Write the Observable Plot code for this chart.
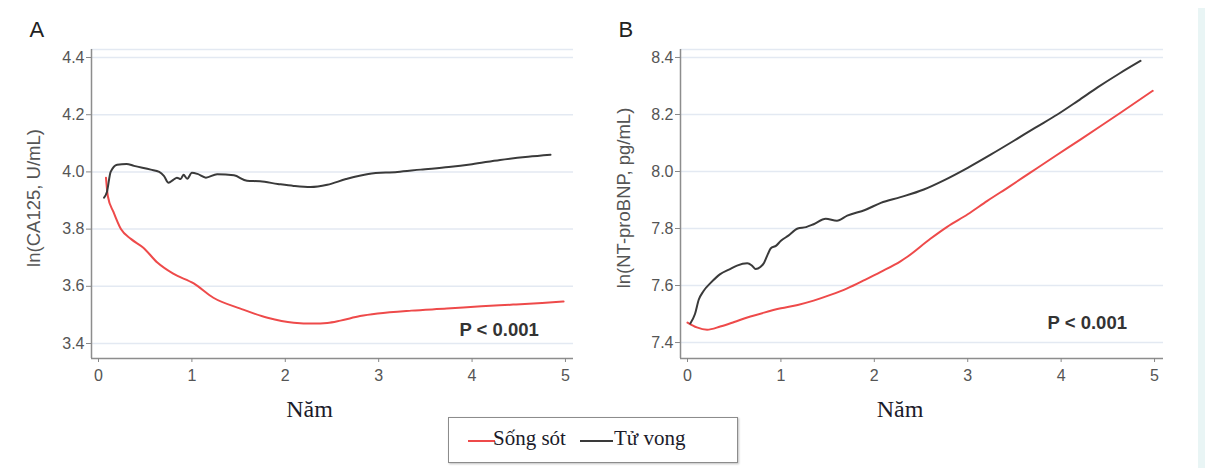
<!DOCTYPE html>
<html>
<head>
<meta charset="utf-8">
<script src="https://cdn.jsdelivr.net/npm/d3@7"></script>
<script src="https://cdn.jsdelivr.net/npm/@observablehq/plot@0.6"></script>
<style>
  html, body { margin: 0; padding: 0; background: #fff; }
  #page { position: relative; width: 1205px; height: 468px; overflow: hidden; background: #fff; }
  .panel { position: absolute; top: 0; }
  .legend { position: absolute; left: 448px; top: 417px; width: 288px; height: 44px;
            border: 1.5px solid #8c8c8c; box-shadow: 1px 1px 2px rgba(0,0,0,0.25); background: #fff; }
  .lg-line { position: absolute; height: 2px; }
  .lg-text { position: absolute; font-family: "Liberation Serif", "Times New Roman", serif; font-size: 21px; color: #1b1b2a; line-height: 1; }
  .edge { position: absolute; left: 1198px; top: 8px; width: 7px; height: 460px; background: #e9f5f5; }
</style>
</head>
<body>
<div id="page">
  <div class="panel" id="panelA" style="left:0px"></div>
  <div class="panel" id="panelB" style="left:590px"></div>
  <div class="legend"></div>
  <div class="edge"></div>
</div>
<script>
// ---- Data ----
const groups = ["Sống sót", "Tử vong"];
const groupColors = ["#ee4a4a", "#3a3a3a"];
const xTicks = [0, 1, 2, 3, 4, 5];
const yTicksA = [3.4, 3.6, 3.8, 4.0, 4.2, 4.4];
const yTicksB = [7.4, 7.6, 7.8, 8.0, 8.2, 8.4];

// Panel A: ln(CA125) — Sống sót
const yearsA_song = [0.08, 0.1, 0.16, 0.24, 0.35, 0.48, 0.63, 0.8, 1.02, 1.23, 1.52, 1.81, 2.09, 2.3, 2.45, 2.59, 2.8, 2.99, 3.35, 3.73, 4.1, 4.44, 4.75, 4.98];
const ca125_song = [3.98, 3.915, 3.86, 3.80, 3.765, 3.735, 3.683, 3.644, 3.61, 3.56, 3.522, 3.49, 3.473, 3.47, 3.472, 3.48, 3.496, 3.505, 3.515, 3.522, 3.53, 3.536, 3.542, 3.547];
// Panel A: ln(CA125) — Tử vong
const yearsA_tu = [0.06, 0.09, 0.13, 0.2, 0.3, 0.38, 0.56, 0.65, 0.7, 0.75, 0.8, 0.84, 0.88, 0.91, 0.95, 1.0, 1.06, 1.15, 1.27, 1.45, 1.59, 1.73, 1.92, 2.09, 2.27, 2.45, 2.65, 2.89, 3.2, 3.45, 3.75, 4.0, 4.3, 4.6, 4.84];
const ca125_tu = [3.91, 3.93, 4.0, 4.025, 4.028, 4.021, 4.008, 4.0, 3.986, 3.962, 3.972, 3.98, 3.975, 3.99, 3.976, 3.997, 3.993, 3.98, 3.992, 3.988, 3.969, 3.967, 3.958, 3.951, 3.947, 3.955, 3.975, 3.993, 4.0, 4.008, 4.017, 4.027, 4.042, 4.053, 4.06];

// Panel B: ln(NT-proBNP) — Sống sót
const yearsB_song = [0.0, 0.1, 0.21, 0.35, 0.5, 0.64, 0.82, 1.0, 1.18, 1.35, 1.53, 1.71, 1.9, 2.07, 2.28, 2.35, 2.6, 2.78, 3.0, 3.21, 3.45, 3.67, 3.95, 4.21, 4.44, 4.64, 4.98];
const bnp_song = [7.47, 7.453, 7.445, 7.456, 7.472, 7.488, 7.505, 7.52, 7.532, 7.547, 7.567, 7.59, 7.62, 7.648, 7.685, 7.70, 7.764, 7.806, 7.85, 7.897, 7.948, 7.996, 8.057, 8.113, 8.163, 8.207, 8.283];
// Panel B: ln(NT-proBNP) — Tử vong
const yearsB_tu = [0.03, 0.08, 0.12, 0.17, 0.25, 0.35, 0.45, 0.53, 0.64, 0.69, 0.73, 0.78, 0.82, 0.86, 0.89, 0.95, 1.0, 1.08, 1.18, 1.27, 1.35, 1.48, 1.6, 1.71, 1.9, 2.07, 2.28, 2.53, 2.75, 3.0, 3.25, 3.49, 3.72, 3.96, 4.18, 4.39, 4.62, 4.85];
const bnp_tu = [7.467, 7.50, 7.55, 7.58, 7.61, 7.64, 7.657, 7.67, 7.678, 7.67, 7.658, 7.665, 7.68, 7.71, 7.73, 7.74, 7.757, 7.775, 7.80, 7.805, 7.815, 7.834, 7.827, 7.845, 7.865, 7.89, 7.91, 7.937, 7.97, 8.013, 8.06, 8.107, 8.153, 8.2, 8.248, 8.295, 8.343, 8.388];

function rows(years, vals, g) { return years.map((t, i) => ({t, v: vals[i], g})); }

const dataA = [...rows(yearsA_song, ca125_song, groups[0]), ...rows(yearsA_tu, ca125_tu, groups[1])];
const dataB = [...rows(yearsB_song, bnp_song, groups[0]), ...rows(yearsB_tu, bnp_tu, groups[1])];

function panel({data, yTicks, yDomain, xDomain, letter, ylabel, ptext, px, py, mLeft, mRight, namDx, ylabDx}) {
  const gridColor = "#e3e9f2";
  return Plot.plot({
    width: 600, height: 400,
    marginLeft: mLeft, marginRight: mRight, marginTop: 49, marginBottom: 42,
    style: {fontFamily: "'Liberation Sans', Arial, sans-serif", fontSize: "16px", color: "#555", background: "transparent", overflow: "visible"},
    x: {domain: xDomain, ticks: xTicks, label: null},
    y: {domain: yDomain, ticks: yTicks, label: null},
    color: {domain: groups, range: groupColors},
    marks: [
      Plot.gridY(yTicks, {stroke: gridColor, strokeOpacity: 1, strokeWidth: 1.5}),
      Plot.ruleY([yDomain[1]], {stroke: gridColor, strokeWidth: 1.5}),
      Plot.ruleX([xDomain[0]], {stroke: "#8d8d8d", strokeWidth: 1.5}),
      Plot.ruleY([yDomain[0]], {stroke: "#8d8d8d", strokeWidth: 1.5}),
      Plot.axisY(yTicks, {tickSize: 5, tickPadding: 2, tickFormat: d3.format(".1f"), stroke: "#888", fill: "#555"}),
      Plot.axisX(xTicks, {tickSize: 4, tickPadding: 7, tickFormat: d3.format("d"), stroke: "#888", fill: "#555"}),
      Plot.line(data, {x: "t", y: "v", z: "g", stroke: "g", strokeWidth: 2, curve: "monotone-x"}),
      Plot.text([ptext], {x: () => px, y: () => py, text: d => d, fontWeight: "bold", fontSize: 18.5, fill: "#333", textAnchor: "middle", lineAnchor: "bottom"}),
      Plot.text([letter], {frameAnchor: "top-left", text: d => d, dx: -62, dy: -28, textAnchor: "start", lineAnchor: "top", fontSize: 22, fill: "#222"}),
      Plot.text([ylabel], {frameAnchor: "left", text: d => d, dx: ylabDx, dy: -6, rotate: -90, textAnchor: "middle", fontSize: 18.5, fill: "#555"}),
      Plot.text(["Năm"], {frameAnchor: "bottom", text: d => d, dx: namDx, dy: 58, lineAnchor: "bottom", fontSize: 24, fill: "#1b1b2a", fontFamily: "'Liberation Serif', 'Times New Roman', serif"})
    ]
  });
}

document.getElementById("panelA").appendChild(panel({
  data: dataA, yTicks: yTicksA, yDomain: [3.3476, 4.428], xDomain: [-0.075, 5.086],
  letter: "A", ylabel: "ln(CA125, U/mL)", ptext: "P < 0.001", px: 4.29, py: 3.428,
  mLeft: 91, mRight: 27, namDx: -23, ylabDx: -57
}));
document.getElementById("panelB").appendChild(panel({
  data: dataB, yTicks: yTicksB, yDomain: [7.344, 8.428], xDomain: [-0.075, 5.096],
  letter: "B", ylabel: "ln(NT-proBNP, pg/mL)", ptext: "P < 0.001", px: 4.28, py: 7.449,
  mLeft: 90, mRight: 27, namDx: -22, ylabDx: -56
}));

// Legend built from group names/colors
const lg = d3.select("#page");
const legendItems = [
  {lineLeft: 468, lineW: 27, textLeft: 493},
  {lineLeft: 580, lineW: 33, textLeft: 614}
];
groups.forEach((g, i) => {
  lg.append("div").attr("class", "lg-line")
    .style("left", legendItems[i].lineLeft + "px").style("top", "440px")
    .style("width", legendItems[i].lineW + "px").style("background", groupColors[i]);
  lg.append("div").attr("class", "lg-text")
    .style("left", legendItems[i].textLeft + "px").style("top", "428px")
    .text(g);
});
</script>
</body>
</html>
